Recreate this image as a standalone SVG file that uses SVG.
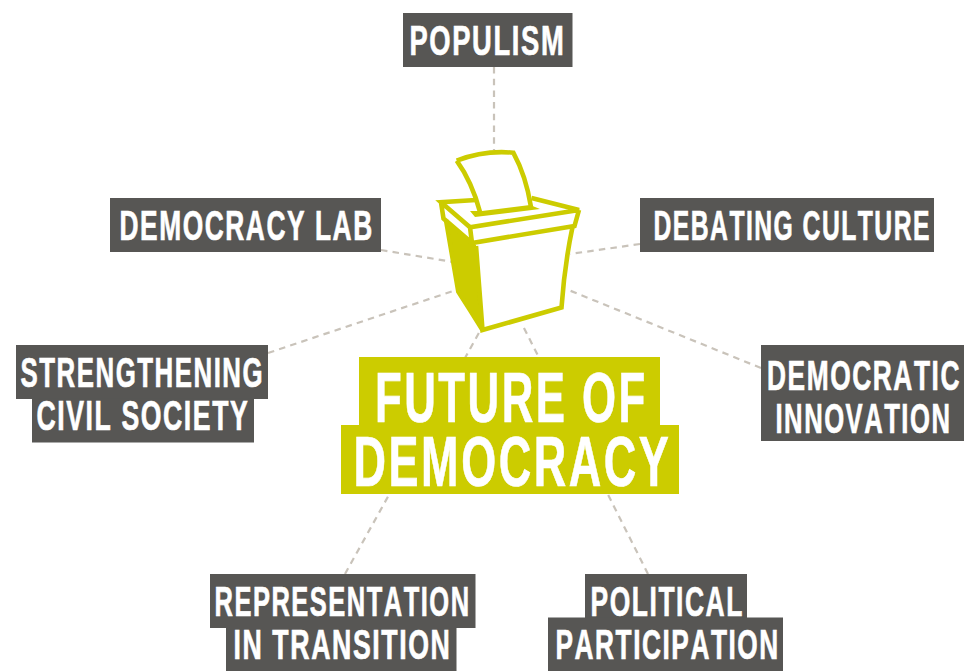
<svg xmlns="http://www.w3.org/2000/svg" width="964" height="671" viewBox="0 0 964 671">
<style>
.c{fill:none;stroke:#c9c3ba;stroke-width:2.2;stroke-dasharray:6.5 5.2}
.d{fill:#575654}
.y{fill:#cccc00}
text{font-family:"Liberation Sans",Arial,sans-serif;font-weight:700;fill:#fff;stroke:#fff;stroke-width:.7;font-kerning:none}
.s{font-size:42.5px;letter-spacing:2.5px}
.b{font-size:71px;letter-spacing:4px}
.l{fill:none;stroke:#cccc00;stroke-width:4.6;stroke-linejoin:miter}
</style>
<rect width="964" height="671" fill="#fff"/>
<g id="connectors">
<path class="c" d="M494 67V150"/>
<path class="c" d="M381 250L453 262"/>
<path class="c" d="M640 244L570 254"/>
<path class="c" d="M268 353L456 290"/>
<path class="c" d="M761 368L566 289"/>
<path class="c" d="M345 574L480 331"/>
<path class="c" d="M648 574L523 326"/>
</g>
<g id="ballot-box">
<path fill="#fff" d="M440 202L475 200L532 198L580 210L575 226L562 308L482 332L458 292L443 218Z"/>
<path class="y" d="M445 219L476 245L483 331L470 310L458 292Z"/>
<path class="l" fill="#fff" d="M456.700 160.700Q484 150 513.300 152.700Q526 176 531 207M456.700 160.700Q472 182 480 212"/>
<path class="y" d="M470 211L482 211L530 205L540 209L475 217Z"/>
<path class="l" d="M476 200L441 202.300L470 227.300L579 210L531.500 198M441 202.300L443.500 218.500L472 243L574.500 226L579 210M470 227.300L472 243"/>
<path class="l" d="M476 246L482.500 330L561.500 307.500Q564.500 265 572.500 227"/>
<path class="l" d="M446 220L458.300 291.700L470 310L482.500 330"/>
</g>
<g id="future-of-democracy">
<rect class="y" x="359" y="357" width="301" height="69"/>
<rect class="y" x="341" y="425" width="338" height="69"/>
<text class="b" transform="matrix(.617 0 0 1 375 421.500)">FUTURE OF</text>
<text class="b" transform="matrix(.634 0 0 1 353.500 486)">DEMOCRACY</text>
</g>
<g id="populism">
<rect class="d" x="403" y="13" width="169.500" height="54"/>
<text class="s" transform="matrix(.644 0 0 1 409.500 55)">POPULISM</text>
</g>
<g id="democracy-lab">
<rect class="d" x="110" y="198" width="271" height="54"/>
<text class="s" transform="matrix(.62 0 0 1 119.500 240)">DEMOCRACY LAB</text>
</g>
<g id="debating-culture">
<rect class="d" x="640" y="198" width="294" height="54"/>
<text class="s" transform="matrix(.582 0 0 1 653.500 240)">DEBATING CULTURE</text>
</g>
<g id="strengthening-civil-society">
<rect class="d" x="16" y="345" width="252" height="54"/>
<rect class="d" x="32" y="398.500" width="222" height="44"/>
<text class="s" transform="matrix(.608 0 0 1 20.500 387)">STRENGTHENING</text>
<text class="s" transform="matrix(.627 0 0 1 36.500 430)">CIVIL SOCIETY</text>
</g>
<g id="democratic-innovation">
<rect class="d" x="761" y="345" width="203" height="96"/>
<text class="s" transform="matrix(.62 0 0 1 767 389.500)">DEMOCRATIC</text>
<text class="s" transform="matrix(.603 0 0 1 775.500 433)">INNOVATION</text>
</g>
<g id="representation-in-transition">
<rect class="d" x="210" y="574" width="265.500" height="54"/>
<rect class="d" x="226" y="627" width="230.500" height="44"/>
<text class="s" transform="matrix(.6 0 0 1 214.500 616)">REPRESENTATION</text>
<text class="s" transform="matrix(.629 0 0 1 233.500 659)">IN TRANSITION</text>
</g>
<g id="political-participation">
<rect class="d" x="585" y="574" width="162" height="44"/>
<rect class="d" x="548" y="617.500" width="235" height="53.500"/>
<text class="s" transform="matrix(.622 0 0 1 590.500 616)">POLITICAL</text>
<text class="s" transform="matrix(.618 0 0 1 555.500 659)">PARTICIPATION</text>
</g>
</svg>
